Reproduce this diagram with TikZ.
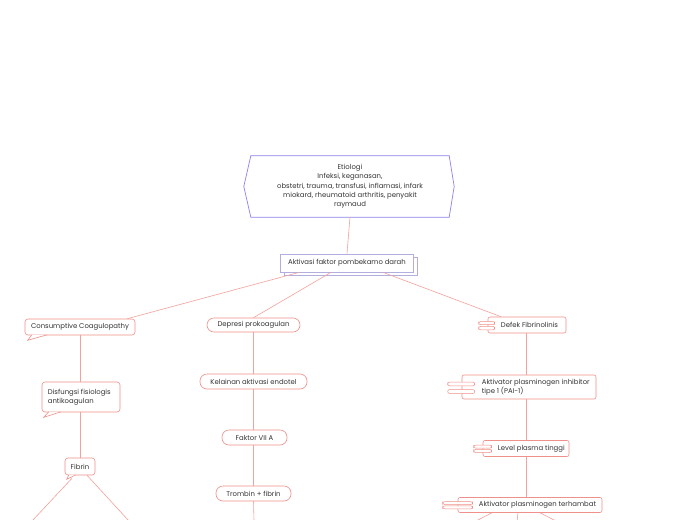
\documentclass[tikz,border=0pt]{standalone}
\usepackage{fontspec}
\setmainfont{Poppins}
\usetikzlibrary{calc}
\definecolor{sal}{HTML}{F4A29C}
\definecolor{salb}{HTML}{F0908A}
\definecolor{vio}{HTML}{8C82EE}
\definecolor{lav}{HTML}{B2AEE2}
\definecolor{txt}{HTML}{333333}
\begin{document}
\begin{tikzpicture}[x=1pt,y=-1pt,
  font=\fontsize{6.9}{9.3}\selectfont, text=txt,
  conn/.style={draw=sal, line width=0.6pt},
  pill/.style={draw=salb, rounded corners=7pt, line width=0.6pt, fill=white, minimum height=15pt, inner sep=0pt},
  sbox/.style={draw=salb, rounded corners=3pt, line width=0.6pt, fill=white, inner sep=0pt},
  tag/.style={draw=salb, rounded corners=2pt, line width=0.5pt, fill=white},
  plain/.style={inner sep=0pt, anchor=west, align=left}]
\useasboundingbox[fill=white] (0,0) rectangle (697,520);

% Etiologi hexagon
\node[minimum width=198pt, minimum height=61pt, inner sep=0pt, align=center] (etio) at (350,186.5)
  {Etiologi\\Infeksi, keganasan,\\obstetri, trauma, transfusi, inflamasi, infark\\miokard, rheumatoid arthritis, penyakit\\raymaud};
\draw[vio, line width=0.7pt] ($(etio.west)+(-7,0)$) -- (etio.north west) -- (etio.north east)
  -- ($(etio.east)+(5,0)$) -- (etio.south east) -- (etio.south west) -- cycle;

% Aktivasi
\draw[lav, line width=0.7pt, fill=white] (284,257) rectangle (417,275);
\node[draw=lav, line width=0.7pt, fill=white, minimum width=133pt, minimum height=18pt, inner sep=0pt] (akt) at (347,263)
  {Aktivasi faktor pombekamo darah};
\draw[conn] (etio.south) -- (akt.north);

% Level 1
\node[sbox, minimum width=110pt, minimum height=16pt] (cons) at (80,327) {Consumptive Coagulopathy};
\draw[salb, line width=0.6pt, fill=white] ($(cons.south west)+(7,-0.4)$) -- ($(cons.south west)+(3,5)$) -- ($(cons.south west)+(22,-0.4)$);
\node[pill, minimum width=93pt, minimum height=14pt] (dep) at (253.5,325) {Depresi prokoagulan};
\node[sbox, rounded corners=2pt, minimum width=78pt, minimum height=16pt] (def) at (527,325) {};
\draw[tag] ($(def.west)+(-9,-3.5)$) rectangle ($(def.west)+(7,-0.3)$);
\draw[tag] ($(def.west)+(-9,1.3)$) rectangle ($(def.west)+(7,4.8)$);
\node[plain] (defT) at ($(def.west)+(13,0)$) {Defek Fibrinolinis};

\draw[conn] ($(akt.south west)+(19,0)$) -- ($(cons.north east)+(-8,0)$);
\draw[conn] ($(akt.south)+(-16,0)$) -- (dep.north);
\draw[conn] ($(akt.south)+(36,0)$) -- ($(def.north)+(-26,0)$);

% Left column
\node[sbox, minimum width=78pt, minimum height=30pt] (dis) at (81,397) {};
\node[plain] (disT) at ($(dis.west)+(6,0)$) {Disfungsi fisiologis\\antikoagulan};
\draw[salb, line width=0.6pt, fill=white] ($(dis.south west)+(7,-0.4)$) -- ($(dis.south west)+(2,5)$) -- ($(dis.south west)+(19,-0.4)$);
\node[sbox, minimum width=30pt, minimum height=17pt] (fib) at (80,466.5) {Fibrin};
\draw[salb, line width=0.6pt, fill=white] ($(fib.south west)+(4,-0.4)$) -- ($(fib.south west)+(2,4)$) -- ($(fib.south west)+(11,-0.4)$);
\coordinate (fibL) at (32,521);
\coordinate (fibR) at (129,521);
\draw[conn] (cons.south) -- (cons.south |- dis.north);
\draw[conn] (cons.south |- dis.south) -- (fib.north);
\draw[conn] ($(fib.south)+(-8,3)$) -- (fibL);
\draw[conn] ($(fib.south)+(7,0)$) -- (fibR);

% Middle column
\node[pill, minimum width=107pt] (kel) at (253.5,381.5) {Kelainan aktivasi endotel};
\node[pill, minimum width=65pt] (fak) at (254.5,437.5) {Faktor VII A};
\node[pill, minimum width=75pt] (tro) at (253.5,493.5) {Trombin + fibrin};
\coordinate (troB) at (254,521);
\draw[conn] (dep.south) -- (kel.north);
\draw[conn] (kel.south) -- (kel.south |- fak.north);
\draw[conn] (kel.south |- fak.south) -- (kel.south |- tro.north);
\draw[conn] (kel.south |- tro.south) -- (troB);

% Right column
\node[sbox, rounded corners=2pt, minimum width=134pt, minimum height=24pt] (pai) at (529,387) {};
\draw[tag] ($(pai.west)+(-14,-5)$) rectangle ($(pai.west)+(13,-1.2)$);
\draw[tag] ($(pai.west)+(-14,2.5)$) rectangle ($(pai.west)+(13,6.5)$);
\node[plain] (paiT) at ($(pai.west)+(20,0)$) {Aktivator plasminogen inhibitor\\tipe 1 (PAI-1)};

\node[sbox, rounded corners=2pt, minimum width=86pt, minimum height=16pt] (lev) at (526,448.5) {};
\draw[tag] ($(lev.west)+(-9,-3.5)$) rectangle ($(lev.west)+(9,-0.3)$);
\draw[tag] ($(lev.west)+(-9,0.9)$) rectangle ($(lev.west)+(9,4.0)$);
\node[plain] (levT) at ($(lev.west)+(15,0)$) {Level plasma tinggi};

\node[sbox, rounded corners=2pt, minimum width=144pt, minimum height=15pt] (ter) at (530,505) {};
\draw[tag] ($(ter.west)+(-15,-3.3)$) rectangle ($(ter.west)+(15,-0.5)$);
\draw[tag] ($(ter.west)+(-15,0.8)$) rectangle ($(ter.west)+(15,3.8)$);
\node[plain] (terT) at ($(ter.west)+(21,0)$) {Aktivator plasminogen terhambat};

\coordinate (rx) at ($(def.south)+(-1,0)$);
\coordinate (ter1) at (474,522);
\coordinate (ter2) at (517,522);
\coordinate (ter3) at (558,522);
\draw[conn] (rx) -- (rx |- pai.north);
\draw[conn] (rx |- pai.south) -- (rx |- lev.north);
\draw[conn] (rx |- lev.south) -- (rx |- ter.north);
\draw[conn] ($(ter.south)+(-38,0)$) -- (ter1);
\draw[conn] ($(ter.south)+(-12,0)$) -- (ter2);
\draw[conn] ($(ter.south)+(10,0)$) -- (ter3);
\end{tikzpicture}
\end{document}
